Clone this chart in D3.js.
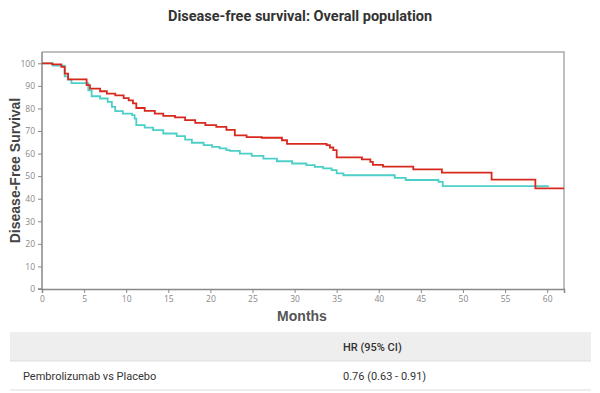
<!DOCTYPE html>
<html><head><meta charset="utf-8">
<script src="https://cdn.jsdelivr.net/npm/d3@7"></script>
<style>body{margin:0;background:#fff;}svg{display:block;}</style>
</head><body>
<div id="chart"></div>
<script>
const pembroMonths = [0,1.2,2.3,2.7,3.1,5.3,5.7,6.9,7.7,8.7,9.7,10.3,10.8,11.2,12.2,13.4,14.4,15.8,17.0,18.2,19.4,20.7,21.9,22.9,24.3,26.1,28.5,29.1,33.8,34.2,34.6,35.0,38.0,39.0,39.3,40.5,44.1,47.5,53.4,58.6,62];
const pembroValues = [100,99.5,98.4,95.4,92.9,90.3,88.8,87.6,86.6,85.8,84.6,83.6,82.2,80.2,78.9,77.7,76.7,76.0,74.8,73.6,72.6,71.8,70.5,68.1,67.3,67.0,65.9,64.3,63.7,62.7,61.5,58.3,57.4,56.3,55.0,54.2,53.0,51.6,48.5,44.6,44.6];
const placeboMonths = [0,1.3,2.7,3.1,3.5,5.5,5.9,6.9,7.8,8.3,8.7,9.6,10.7,11.0,11.2,12.2,13.2,14.4,16.0,17.0,17.8,19.2,20.2,21.1,21.9,22.3,23.5,24.9,26.3,27.9,29.7,31.4,32.4,33.4,34.4,35.0,35.8,41.9,43.2,47.1,47.6,60.2];
const placeboValues = [100,99,94.2,92.8,91.2,88,85.4,84.4,82.9,80.7,78.8,77.7,77,75.5,72.6,71.5,70.4,68.9,67.7,66.2,64.8,63.7,63,62.3,61.5,61.2,60,59,57.8,56.6,55.6,54.9,54.1,53.4,52.7,51.2,50.4,49.2,48.3,47.5,45.6,45.6];
const xTicks = [0,5,10,15,20,25,30,35,40,45,50,55,60];
const yTicks = [0,10,20,30,40,50,60,70,80,90,100];
const tableHeader = ["", "HR (95% CI)"];
const tableRows = [["Pembrolizumab vs Placebo", "0.76 (0.63 - 0.91)"]];

const W = 600, H = 393;
const m = {l:42, r:36, t:52, b:104};
const svg = d3.select("#chart").append("svg").attr("width", W).attr("height", H);

const x = d3.scaleLinear().domain([0,62]).range([m.l, W - m.r]);
const y = d3.scaleLinear().domain([0,105]).range([H - m.b, m.t]);

svg.append("text").attr("x", 300).attr("y", 21).attr("text-anchor","middle")
  .style("font-family","Roboto").style("font-weight","bold").style("font-size","14.5px").attr("fill","#333")
  .text("Disease-free survival: Overall population");

// frame (top and right)
svg.append("path").attr("d", `M${x(0)},${y(105)}H${x(62)}V${y(0)}`)
  .attr("fill","none").attr("stroke","#aaa").attr("stroke-width",1.5);

const xAxis = svg.append("g").attr("transform",`translate(0,${y(0)})`)
  .call(d3.axisBottom(x).tickValues(xTicks).tickSize(4).tickPadding(3));
const yAxis = svg.append("g").attr("transform",`translate(${x(0)},0)`)
  .call(d3.axisLeft(y).tickValues(yTicks).tickSize(4).tickPadding(3));
[xAxis, yAxis].forEach(g => {
  g.select(".domain").attr("stroke","#888").attr("stroke-width",1.5);
  g.selectAll(".tick line").attr("stroke","#888");
  g.selectAll(".tick text").attr("fill","#888").style("font-family","Open Sans").style("font-size","8.5px");
});
yAxis.select(".domain").attr("d", `M-4,${y(0)}H0V${y(105)}`);

const line = d3.line().curve(d3.curveStepAfter).x(d => x(d[0])).y(d => y(d[1]));
const series = [
  {m: placeboMonths, v: placeboValues, color: "#4ccfc6"},
  {m: pembroMonths, v: pembroValues, color: "#d8291e"}
];
series.forEach(s => {
  svg.append("path").datum(s.m.map((mm,i) => [mm, s.v[i]]))
    .attr("d", line).attr("fill","none").attr("stroke", s.color).attr("stroke-width", 1.8);
});

svg.append("text").attr("transform",`translate(20,${(y(0)+y(105))/2}) rotate(-90)`)
  .attr("text-anchor","middle").style("font-family","Liberation Sans").style("font-weight","bold")
  .style("font-size","14px").attr("fill","#444").text("Disease-Free Survival");
svg.append("text").attr("x", 302).attr("y", 321).attr("text-anchor","middle")
  .style("font-family","Liberation Sans").style("font-weight","bold")
  .style("font-size","14px").attr("fill","#555").text("Months");

// table
const tx0 = 10, tx1 = 591, col2 = 343;
svg.append("rect").attr("x", tx0).attr("y", 332).attr("width", tx1 - tx0).attr("height", 29).attr("fill","#eeeeee");
svg.append("line").attr("x1",tx0).attr("x2",tx1).attr("y1",361).attr("y2",361).attr("stroke","#ddd");
svg.append("line").attr("x1",tx0).attr("x2",tx1).attr("y1",390).attr("y2",390).attr("stroke","#ddd");
svg.append("text").attr("x", col2).attr("y", 350.5).style("font-family","Roboto").style("font-weight","500")
  .style("font-size","11px").attr("fill","#333").text(tableHeader[1]);
tableRows.forEach((r,i) => {
  svg.append("text").attr("x", 23).attr("y", 380 + i*29).style("font-family","Roboto")
    .style("font-size","11px").attr("fill","#333").text(r[0]);
  svg.append("text").attr("x", col2).attr("y", 380 + i*29).style("font-family","Roboto")
    .style("font-size","11px").attr("fill","#333").text(r[1]);
});
</script>
</body></html>
